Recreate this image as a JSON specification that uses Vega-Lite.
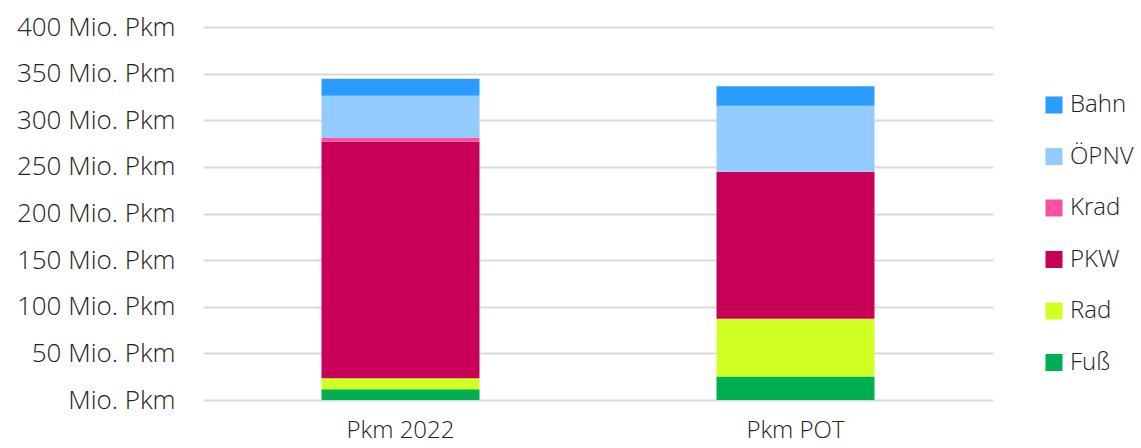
{
  "$schema": "https://vega.github.io/schema/vega-lite/v6.json",
  "width": 790,
  "height": 373,
  "autosize": {"type": "none"},
  "padding": {"left": 203, "top": 27, "right": 148, "bottom": 48},
  "background": "white",
  "config": {
    "view": {"stroke": null},
    "font": "Open Sans",
    "axis": {"labelFont": "Open Sans", "labelColor": "#222222", "labelFontWeight": 300},
    "legend": {"labelFont": "Open Sans", "labelColor": "#222222", "labelFontWeight": 300}
  },
  "data": {
    "values": [
      {"kategorie": "Pkm 2022", "modus": "Fuß", "wert": 11.5, "ord": 1},
      {"kategorie": "Pkm 2022", "modus": "Rad", "wert": 11.8, "ord": 2},
      {"kategorie": "Pkm 2022", "modus": "PKW", "wert": 253.7, "ord": 3},
      {"kategorie": "Pkm 2022", "modus": "Krad", "wert": 4.0, "ord": 4},
      {"kategorie": "Pkm 2022", "modus": "ÖPNV", "wert": 45.3, "ord": 5},
      {"kategorie": "Pkm 2022", "modus": "Bahn", "wert": 18.3, "ord": 6},
      {"kategorie": "Pkm POT", "modus": "Fuß", "wert": 25.2, "ord": 1},
      {"kategorie": "Pkm POT", "modus": "Rad", "wert": 61.9, "ord": 2},
      {"kategorie": "Pkm POT", "modus": "PKW", "wert": 157.4, "ord": 3},
      {"kategorie": "Pkm POT", "modus": "Krad", "wert": 0.3, "ord": 4},
      {"kategorie": "Pkm POT", "modus": "ÖPNV", "wert": 70.7, "ord": 5},
      {"kategorie": "Pkm POT", "modus": "Bahn", "wert": 21.0, "ord": 6}
    ]
  },
  "mark": {"type": "bar"},
  "encoding": {
    "x": {
      "field": "kategorie",
      "type": "nominal",
      "sort": ["Pkm 2022", "Pkm POT"],
      "scale": {"paddingInner": 0.6, "paddingOuter": 0.3},
      "axis": {
        "title": null,
        "labelAngle": 0,
        "labelFontSize": 24,
        "labelPadding": 18,
        "ticks": false,
        "domain": false
      }
    },
    "y": {
      "field": "wert",
      "type": "quantitative",
      "stack": "zero",
      "scale": {"domain": [0, 400], "nice": false},
      "axis": {
        "title": null,
        "values": [0, 50, 100, 150, 200, 250, 300, 350, 400],
        "labelExpr": "datum.value == 0 ? 'Mio. Pkm' : datum.value + ' Mio. Pkm'",
        "labelFontSize": 26,
        "labelPadding": 28,
        "ticks": false,
        "domain": false,
        "grid": true,
        "gridColor": "#D9D9D9",
        "gridWidth": 2
      }
    },
    "color": {
      "field": "modus",
      "type": "nominal",
      "scale": {
        "domain": ["Bahn", "ÖPNV", "Krad", "PKW", "Rad", "Fuß"],
        "range": ["#2A9BFF", "#93CBFF", "#FF4FA0", "#C8005A", "#D0FF24", "#00B050"]
      },
      "legend": {
        "title": null,
        "orient": "none",
        "legendX": 839,
        "legendY": 66,
        "symbolType": "square",
        "symbolSize": 290,
        "symbolStrokeWidth": 0,
        "labelFontSize": 24,
        "labelOffset": 4,
        "rowPadding": 27.5
      }
    },
    "order": {"field": "ord", "type": "quantitative"}
  }
}
